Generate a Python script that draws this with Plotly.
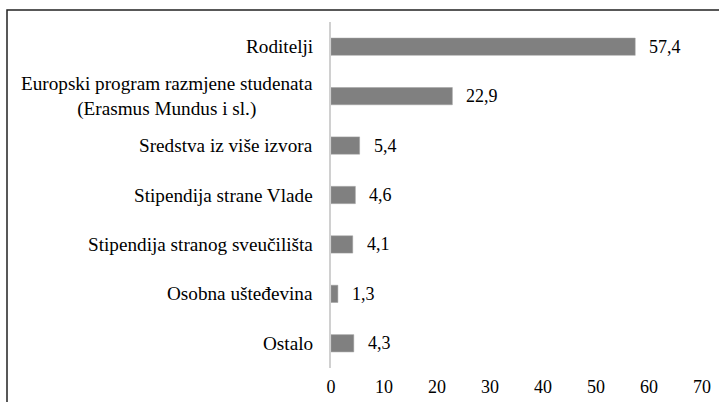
import plotly.graph_objects as go

categories = [
    "Roditelji",
    "Europski program razmjene studenata<br>(Erasmus Mundus i sl.)",
    "Sredstva iz više izvora",
    "Stipendija strane Vlade",
    "Stipendija stranog sveučilišta",
    "Osobna ušteđevina",
    "Ostalo",
]
values = [57.4, 22.9, 5.4, 4.6, 4.1, 1.3, 4.3]
value_labels = ["57,4", "22,9", "5,4", "4,6", "4,1", "1,3", "4,3"]
x_ticks = [0, 10, 20, 30, 40, 50, 60, 70]

FONT = "'Liberation Serif', 'Times New Roman', serif"

fig = go.Figure(
    go.Bar(
        x=values,
        y=categories,
        orientation="h",
        width=0.35,
        marker=dict(color="#808080", line=dict(color="#a0a0a0", width=0.5)),
        hoverinfo="skip",
    )
)

annotations = []
for c, v, lab in zip(categories, values, value_labels):
    annotations.append(dict(
        x=v, y=c, xref="x", yref="y", text=lab, showarrow=False,
        xanchor="left", xshift=12, font=dict(family=FONT, size=18, color="#000"),
    ))
    annotations.append(dict(
        x=0, y=c, xref="paper", yref="y", text=c, showarrow=False,
        xanchor="right", align="center", xshift=-16,
        font=dict(family=FONT, size=19.2, color="#000"),
    ))

L, R, T, B = 331, 17, 22, 34
W, H = 719, 402
pw = W - L - R
ph = H - T - B

def px(x):
    return (x - L) / pw

def py(y):
    return (H - B - y) / ph

fig.update_layout(
    width=W, height=H,
    margin=dict(l=L, r=R, t=T, b=B, autoexpand=False),
    paper_bgcolor="white", plot_bgcolor="white",
    separators=",.",
    showlegend=False,
    font=dict(family=FONT, size=18, color="#000"),
    annotations=annotations,
    shapes=[dict(
        type="rect", xref="paper", yref="paper",
        x0=px(7), x1=px(730), y0=py(415), y1=py(10),
        line=dict(color="#222", width=1.5), fillcolor="rgba(0,0,0,0)", layer="above",
    )],
    xaxis=dict(
        range=[0, 70], tickvals=x_ticks, ticktext=[str(t) for t in x_ticks],
        showgrid=False, zeroline=False, showline=False, ticks="",
        ticklabelstandoff=6, automargin=False,
        tickfont=dict(family=FONT, size=18, color="#000"), fixedrange=True,
    ),
    yaxis=dict(
        categoryorder="array", categoryarray=categories,
        range=[6.5, -0.5], showticklabels=False, ticks="", automargin=False,
        showgrid=False, zeroline=False,
        showline=True, linecolor="#d0d0d0", linewidth=1.5, fixedrange=True,
    ),
)

fig.write_html(
    "out.html",
    config={"displayModeBar": False},
    post_script="document.body.style.margin='0';document.body.style.overflow='hidden';",
)
